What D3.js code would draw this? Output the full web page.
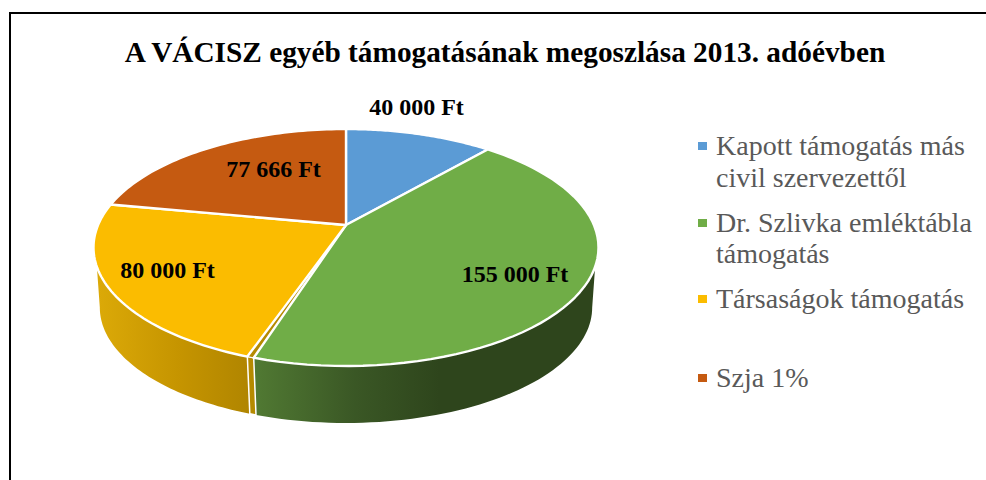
<!DOCTYPE html>
<html><head><meta charset="utf-8">
<script src="https://cdn.jsdelivr.net/npm/d3@7"></script>
<style>html,body{margin:0;padding:0;background:#fff}svg{display:block}text{font-family:"Liberation Serif",serif}</style>
</head><body><svg id="c" width="986" height="480"></svg>
<script>
const titleText = "A VÁCISZ egyéb támogatásának megoszlása 2013. adóévben";
const categories = ["Kapott támogatás más civil szervezettől","Dr. Szlivka emléktábla támogatás","Társaságok támogatás","Szja 1%"];
const legendLines = [["Kapott támogatás más","civil szervezettől"],["Dr. Szlivka emléktábla","támogatás"],["Társaságok támogatás"],["Szja 1%"]];
const values = [40000,155000,80000,77666];
const valueLabels = ["40 000 Ft","155 000 Ft","80 000 Ft","77 666 Ft"];
const colors = ["#5b9bd5","#70ad47","#fbbc00","#c55a11"];
const labelPos = [[416.5,115],[515,282],[167.5,278],[273.5,177]];
const legendBase = [[155,187],[232,263],[308],[387]];

const svg = d3.select("#c");
const defs = svg.append("defs");
function grad(id,x1,x2,stops){
  const g=defs.append("linearGradient").attr("id",id).attr("gradientUnits","userSpaceOnUse")
    .attr("x1",x1).attr("x2",x2).attr("y1",0).attr("y2",0);
  stops.forEach(s=>g.append("stop").attr("offset",s[0]).attr("stop-color",s[1]));
}
grad("gGreen",253,440,[[0,"#517a33"],[0.55,"#3a5725"],[1,"#2e451c"]]);
grad("gGold",95,250,[[0,"#dcaa08"],[0.55,"#c59400"],[1,"#b08500"]]);

// frame
svg.append("path").attr("d","M10,480V13H986").attr("fill","none").attr("stroke","#000").attr("stroke-width",2);

svg.append("text").attr("x",505).attr("y",62).attr("text-anchor","middle")
  .attr("font-size",29.3).attr("font-weight","bold").attr("fill","#000").text(titleText);

// perspective pie
const cx=346, topY=225, baseY=285.5, A=247.9, B=114.2, K=0.19, baseScale=0.975;
const proj=(t,y0,s)=>{const u=Math.sin(t),v=-Math.cos(t),d=1-K*v;return [cx+s*A*u/d,y0+s*B*v/d];};
const arcPts=(a0,a1,y0,s)=>d3.range(0,61).map(i=>proj(a0+(a1-a0)*i/60,y0,s));
const line=d3.line();
const arcs=d3.pie().sort(null).value(d=>d)(values);
const rad=d=>d*Math.PI/180;
const cut=rad(1.3);

const g=arcs[1], o=arcs[2];
// green wall: top rim from the silhouette point to the cut
svg.append("path").attr("d",line(arcPts(rad(110),g.endAngle-cut,topY,1).concat(arcPts(g.endAngle-cut,rad(101),baseY,baseScale)))+"Z")
  .attr("fill","url(#gGreen)");
// gold wall
svg.append("path").attr("d",line(arcPts(o.startAngle,rad(250),topY,1).concat(arcPts(rad(259),o.startAngle,baseY,baseScale)))+"Z")
  .attr("fill","url(#gGold)");
// visible cut face between green and gold
svg.append("path").attr("d",line([proj(o.startAngle,topY,1),proj(o.startAngle,baseY,baseScale),proj(g.endAngle-cut,baseY,baseScale),proj(g.endAngle-cut,topY,1)])+"Z")
  .attr("fill","#b58a00").attr("stroke","#fff").attr("stroke-width",1.5);
svg.append("path").attr("d",line([[cx,topY],proj(g.endAngle-cut,topY,1),proj(o.startAngle,topY,1)])+"Z")
  .attr("fill","#b58a00").attr("stroke","#fff").attr("stroke-width",1);

// top faces
arcs.forEach((d,i)=>{
  const end = i===1 ? d.endAngle-cut : d.endAngle;
  svg.append("path").attr("d",line([[cx,topY]].concat(arcPts(d.startAngle,end,topY,1)))+"Z")
    .attr("fill",colors[i]).attr("stroke","#fff").attr("stroke-width",2.4).attr("stroke-linejoin","round");
});

// value labels
valueLabels.forEach((t,i)=>svg.append("text").attr("x",labelPos[i][0]).attr("y",labelPos[i][1])
  .attr("text-anchor","middle").attr("font-size",24).attr("font-weight","bold").attr("fill","#000").text(t));

// legend
categories.forEach((c,i)=>{
  svg.append("rect").attr("x",698).attr("y",legendBase[i][0]-13).attr("width",9).attr("height",8).attr("fill",colors[i]);
  legendLines[i].forEach((l,j)=>svg.append("text").attr("x",716).attr("y",legendBase[i][j])
    .attr("font-size",28).attr("fill","#595959").text(l));
});
</script></body></html>
